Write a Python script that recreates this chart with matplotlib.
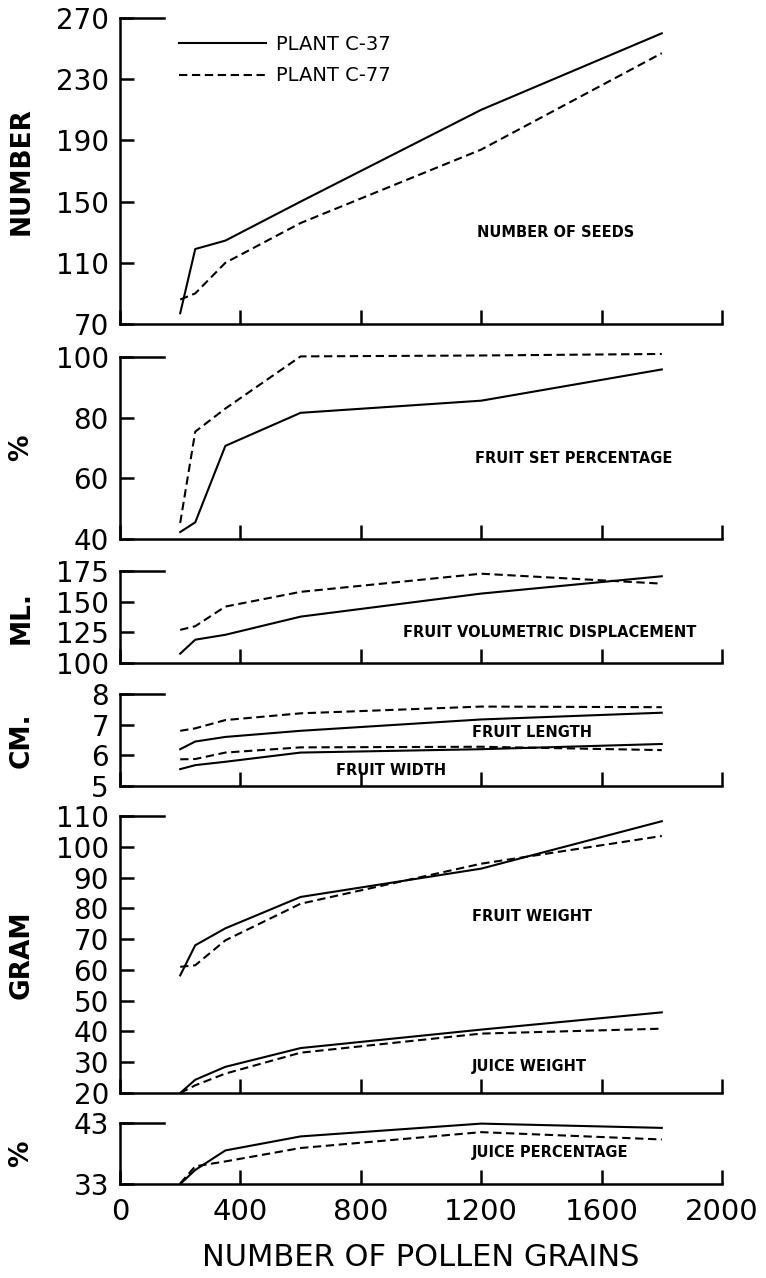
import numpy as np
import matplotlib.pyplot as plt

plt.rcParams['font.family'] = ['DejaVu Sans']

# ---------------- data ----------------
pollen = [200, 250, 350, 600, 1200, 1800]          # number of pollen grains

seeds_c37 = [77, 119, 124.5, 150, 210, 260]
seeds_c77 = [86, 90, 110, 136, 184, 247]

fruitset_c37 = [42.3, 45.5, 70.7, 81.6, 85.6, 95.9]
fruitset_c77 = [45.3, 75.4, 83, 100.2, 100.5, 101]

volume_c37 = [107.6, 119, 123, 137.8, 156.6, 170.7]
volume_c77 = [127, 130, 146, 158, 172.8, 164.7]

length_c37 = [6.2, 6.45, 6.6, 6.8, 7.17, 7.39]
length_c77 = [6.8, 6.88, 7.15, 7.37, 7.59, 7.57]
width_c37 = [5.55, 5.68, 5.79, 6.09, 6.2, 6.37]
width_c77 = [5.87, 5.88, 6.09, 6.26, 6.28, 6.17]

fweight_c37 = [58.2, 68, 73.5, 83.7, 92.9, 108.3]
fweight_c77 = [61, 61.5, 69.6, 81.5, 94.5, 103.5]
jweight_c37 = [20, 24.3, 28.5, 34.6, 40.6, 46.2]
jweight_c77 = [20, 22.5, 26.3, 33.1, 39.3, 40.9]

jpct_c37 = [33, 35.3, 38.5, 40.8, 42.9, 42.2]
jpct_c77 = [33.1, 35.9, 36.7, 38.9, 41.5, 40.3]

xticks = [0, 400, 800, 1200, 1600, 2000]
seeds_ticks = [70, 110, 150, 190, 230, 270]
fruitset_ticks = [40, 60, 80, 100]
volume_ticks = [100, 125, 150, 175]
size_ticks = [5, 6, 7, 8]
gram_ticks = [20, 30, 40, 50, 60, 70, 80, 90, 100, 110]
jpct_ticks = [33, 43]

# ---------------- figure ----------------
W, H = 766, 1278
fig = plt.figure(figsize=(W / 100, H / 100), dpi=100)
LEFT, RIGHT = 120, 722
LW = 1.5
DASH = (4, 2.2)


def panel(top, bottom, yticks, ylabel, last=False):
    ax = fig.add_axes([LEFT / W, 1 - bottom / H, (RIGHT - LEFT) / W, (bottom - top) / H])
    ax.set_xlim(0, 2000)
    ax.set_ylim(yticks[0], yticks[-1])
    ax.spines[['top', 'right']].set_visible(False)
    for s in ['left', 'bottom']:
        ax.spines[s].set_linewidth(1.8)
    ax.set_xticks(xticks)
    ax.set_yticks(yticks)
    ax.tick_params(axis='y', direction='in', length=10, width=1.8, labelsize=20, pad=8)
    ax.tick_params(axis='x', direction='in', length=10, width=1.8, labelsize=21, pad=10,
                   labelbottom=last)
    ax.axhline(yticks[-1], xmin=0, xmax=0.073, color='black', lw=1.8, clip_on=False)
    ax.set_ylabel(ylabel, fontsize=19, fontweight='bold', va='center')
    ax.yaxis.set_label_coords(-0.164, 0.5)
    return ax


def pair(ax, y37, y77, lab=True):
    ax.plot(pollen, y37, color='black', lw=LW, clip_on=False,
            label='PLANT C-37' if lab else None)
    ax.plot(pollen, y77, color='black', lw=LW, ls='--', dashes=DASH, clip_on=False,
            label='PLANT C-77' if lab else None)


ann = dict(fontsize=10.5, fontweight='bold', ha='left', va='center')

# number of seeds
ax1 = panel(18, 324, seeds_ticks, 'NUMBER')
pair(ax1, seeds_c37, seeds_c77)
ax1.text(1185, 129.5, 'NUMBER OF SEEDS', **ann)
ax1.legend(loc='upper left', bbox_to_anchor=(0.098, 0.945), frameon=False, fontsize=14,
           handlelength=4.5, handletextpad=0.5, labelspacing=0.65, borderpad=0,
           borderaxespad=0)

# fruit set percentage
ax2 = panel(357, 539, fruitset_ticks, '%')
pair(ax2, fruitset_c37, fruitset_c77, False)
ax2.text(1178, 66.7, 'FRUIT SET PERCENTAGE', **ann)

# volumetric displacement
ax3 = panel(571, 663, volume_ticks, 'ML.')
pair(ax3, volume_c37, volume_c77, False)
ax3.text(940, 124.5, 'FRUIT VOLUMETRIC DISPLACEMENT', **ann)

# fruit length / width
ax4 = panel(694, 786, size_ticks, 'CM.')
pair(ax4, length_c37, length_c77, False)
pair(ax4, width_c37, width_c77, False)
ax4.text(1171, 6.73, 'FRUIT LENGTH', **ann)
ax4.text(719, 5.49, 'FRUIT WIDTH', **ann)

# fruit and juice weight
ax5 = panel(816, 1093, gram_ticks, 'GRAM')
pair(ax5, fweight_c37, fweight_c77, False)
pair(ax5, jweight_c37, jweight_c77, False)
ax5.text(1171, 77.2, 'FRUIT WEIGHT', **ann)
ax5.text(1168, 28.5, 'JUICE WEIGHT', **ann)

# juice percentage
ax6 = panel(1123, 1184, jpct_ticks, '%', last=True)
pair(ax6, jpct_c37, jpct_c77, False)
ax6.text(1168, 38.1, 'JUICE PERCENTAGE', **ann)
ax6.set_xlabel('NUMBER OF POLLEN GRAINS', fontsize=22, labelpad=12)

fig.savefig('out.png', dpi=100)
